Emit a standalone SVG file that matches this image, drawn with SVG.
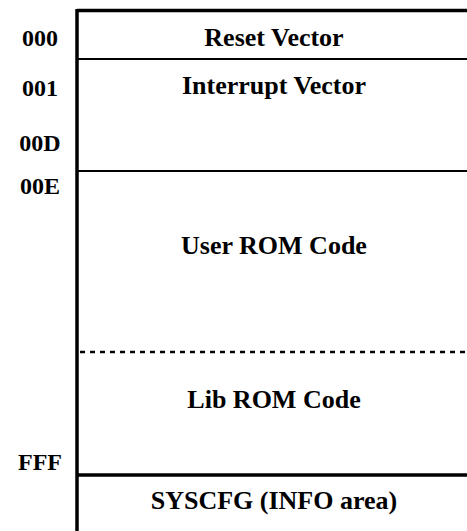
<svg xmlns="http://www.w3.org/2000/svg" width="467" height="531" viewBox="0 0 467 531">
  <style>
    text { font-family: "Liberation Serif", "Times New Roman", serif; font-weight: bold; fill: #000; }
    .addr { font-size: 24px; text-anchor: middle; }
    .name { font-size: 26px; text-anchor: middle; }
    .edge { stroke: #000; fill: none; }
    .thick { stroke-width: 3.5; }
    .thin { stroke-width: 2; }
    .dotted { stroke-width: 2.5; stroke-dasharray: 5 5; }
  </style>
  <rect width="467" height="531" fill="#fff"/>

  <!-- memory map boundaries -->
  <g id="connectors">
    <line class="edge thick" x1="77" y1="9" x2="77" y2="531"/>
    <line class="edge thick" x1="77" y1="10.5" x2="467" y2="10.5"/>
    <line class="edge thin" x1="77" y1="59" x2="467" y2="59"/>
    <line class="edge thin" x1="77" y1="171" x2="467" y2="171"/>
    <line class="edge dotted" x1="80" y1="352" x2="467" y2="352"/>
    <line class="edge thick" x1="77" y1="475" x2="467" y2="475"/>
  </g>

  <!-- address labels -->
  <g id="addresses">
    <text class="addr" x="40" y="46">000</text>
    <text class="addr" x="40" y="96">001</text>
    <text class="addr" x="40" y="151">00D</text>
    <text class="addr" x="40" y="194">00E</text>
    <text class="addr" x="40" y="470">FFF</text>
  </g>

  <!-- regions -->
  <g id="reset-vector"><text class="name" x="274" y="46">Reset Vector</text></g>
  <g id="interrupt-vector"><text class="name" x="274" y="94">Interrupt Vector</text></g>
  <g id="user-rom"><text class="name" x="274" y="254">User ROM Code</text></g>
  <g id="lib-rom"><text class="name" x="274" y="408">Lib ROM Code</text></g>
  <g id="syscfg"><text class="name" x="274" y="509">SYSCFG (INFO area)</text></g>
</svg>
